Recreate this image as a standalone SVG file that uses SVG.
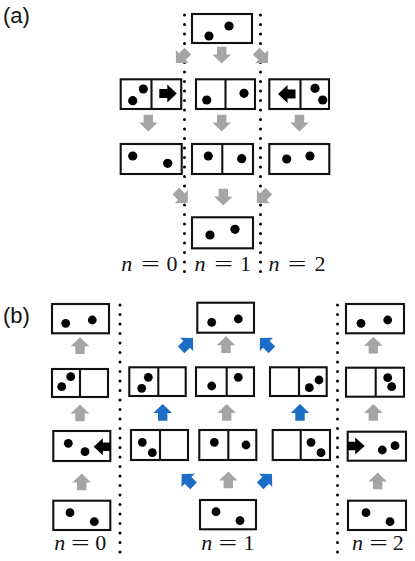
<svg xmlns="http://www.w3.org/2000/svg" xmlns:xlink="http://www.w3.org/1999/xlink" width="415" height="561" viewBox="0 0 415 561">
<style>
.box{fill:#fff;stroke:#111;stroke-width:2.1}
.div{stroke:#111;stroke-width:2.1}
.dot{fill:#000}
.vl{stroke:#000;stroke-width:3;stroke-dasharray:0 9.5;stroke-linecap:round;fill:none}
.g{fill:#a4a6a4}
.b{fill:#1d6cc6}
.k{fill:#000}
.lbl{font-family:"Liberation Sans",Arial,sans-serif;font-size:22px;fill:#111}
.m{font-family:"Liberation Serif","Times New Roman",serif;font-size:22px;fill:#111}
.mi{font-style:italic}
</style>
<defs>
<path id="ar" d="M0,-8.5 L9.3,0.5 L4.7,0.5 L4.7,8.3 L-4.7,8.3 L-4.7,0.5 L-9.3,0.5 Z"/>
<path id="ka" d="M0,-4.5 H8 V-9 L17.5,0 L8,9 V4.5 H0 Z"/>
</defs>
<text class="lbl" x="3" y="22.7">(a)</text>
<text class="lbl" x="3" y="322.7">(b)</text>
<g id="dividers">
<line class="vl" x1="184.5" y1="15" x2="184.5" y2="277"/>
<line class="vl" x1="260.5" y1="15" x2="260.5" y2="277"/>
<line class="vl" x1="120" y1="305" x2="120" y2="556"/>
<line class="vl" x1="337.5" y1="305" x2="337.5" y2="556"/>
</g>
<g id="connectors">
<use href="#ar" class="g" transform="translate(221.7,55) rotate(180)"/>
<use href="#ar" class="g" transform="translate(182,57) rotate(225)"/>
<use href="#ar" class="g" transform="translate(262,57) rotate(135)"/>
<use href="#ar" class="g" transform="translate(148.3,123) rotate(180)"/>
<use href="#ar" class="g" transform="translate(221.7,123) rotate(180)"/>
<use href="#ar" class="g" transform="translate(299.5,123) rotate(180)"/>
<use href="#ar" class="g" transform="translate(181.7,197) rotate(135)"/>
<use href="#ar" class="g" transform="translate(223.3,197) rotate(180)"/>
<use href="#ar" class="g" transform="translate(263,197) rotate(225)"/>
<use href="#ar" class="g" transform="translate(80,345.8)"/>
<use href="#ar" class="g" transform="translate(80,413)"/>
<use href="#ar" class="g" transform="translate(81.7,482)"/>
<use href="#ar" class="g" transform="translate(226,344.7)"/>
<use href="#ar" class="g" transform="translate(226.7,412.5)"/>
<use href="#ar" class="g" transform="translate(228.3,480)"/>
<use href="#ar" class="g" transform="translate(373.3,345.3)"/>
<use href="#ar" class="g" transform="translate(373.3,412.5)"/>
<use href="#ar" class="g" transform="translate(377.7,481)"/>
<use href="#ar" class="b" transform="translate(187,344) rotate(45)"/>
<use href="#ar" class="b" transform="translate(266,344) rotate(-45)"/>
<use href="#ar" class="b" transform="translate(162.7,412.5)"/>
<use href="#ar" class="b" transform="translate(300,412.5)"/>
<use href="#ar" class="b" transform="translate(187.7,480) rotate(-45)"/>
<use href="#ar" class="b" transform="translate(266,480) rotate(45)"/>
</g>
<g id="a0"><rect class="box" x="192" y="14" width="60" height="29"/><circle class="dot" cx="209" cy="36" r="4.6"/><circle class="dot" cx="229" cy="26" r="4.6"/></g>
<g id="a1l"><rect class="box" x="120.7" y="79.3" width="60.5" height="29.7"/><line class="div" x1="151.5" y1="79.3" x2="151.5" y2="109"/><circle class="dot" cx="132.7" cy="100.7" r="4.6"/><circle class="dot" cx="143.3" cy="89" r="4.6"/><use href="#ka" class="k" transform="translate(159.3,93.5)"/></g>
<g id="a1m"><rect class="box" x="196" y="79.3" width="59" height="29.7"/><line class="div" x1="225.5" y1="79.3" x2="225.5" y2="109"/><circle class="dot" cx="206.7" cy="100" r="4.6"/><circle class="dot" cx="244" cy="93.3" r="4.6"/></g>
<g id="a1r"><rect class="box" x="269.3" y="79.3" width="59.7" height="29.7"/><line class="div" x1="300.5" y1="79.3" x2="300.5" y2="109"/><circle class="dot" cx="315" cy="88.3" r="4.6"/><circle class="dot" cx="322.7" cy="100" r="4.6"/><use href="#ka" class="k" transform="translate(295.5,94) scale(-1,1)"/></g>
<g id="a2l"><rect class="box" x="120.7" y="144" width="61" height="30"/><circle class="dot" cx="132.7" cy="156" r="4.6"/><circle class="dot" cx="167.7" cy="163.3" r="4.6"/></g>
<g id="a2m"><rect class="box" x="192" y="144" width="61" height="30"/><line class="div" x1="222.3" y1="144" x2="222.3" y2="174"/><circle class="dot" cx="208.3" cy="156" r="4.6"/><circle class="dot" cx="241.7" cy="158.7" r="4.6"/></g>
<g id="a2r"><rect class="box" x="269.3" y="144" width="60" height="30"/><circle class="dot" cx="286.7" cy="159" r="4.6"/><circle class="dot" cx="310" cy="156" r="4.6"/></g>
<g id="a3"><rect class="box" x="192" y="217.3" width="61" height="31"/><circle class="dot" cx="210" cy="235" r="4.6"/><circle class="dot" cx="235" cy="229.3" r="4.6"/></g>
<g id="alabels">
<text class="m mi" x="126.7" y="271" text-anchor="middle">n</text><text class="m" transform="translate(150.5,271) scale(1.5,1)" text-anchor="middle">=</text><text class="m" x="172" y="271" text-anchor="middle">0</text>
<text class="m mi" x="200" y="271" text-anchor="middle">n</text><text class="m" transform="translate(223.5,271) scale(1.5,1)" text-anchor="middle">=</text><text class="m" x="245.5" y="271" text-anchor="middle">1</text>
<text class="m mi" x="274" y="271" text-anchor="middle">n</text><text class="m" transform="translate(297,271) scale(1.5,1)" text-anchor="middle">=</text><text class="m" x="320" y="271" text-anchor="middle">2</text>
</g>
<g id="b0t"><rect class="box" x="52" y="304" width="57" height="29.3"/><circle class="dot" cx="65.7" cy="323.3" r="4.4"/><circle class="dot" cx="92.3" cy="320" r="4.4"/></g>
<g id="b0r2"><rect class="box" x="52" y="369" width="56" height="28"/><line class="div" x1="80" y1="369" x2="80" y2="397"/><circle class="dot" cx="61.7" cy="386.7" r="4.4"/><circle class="dot" cx="70.7" cy="376.7" r="4.4"/></g>
<g id="b0r3"><rect class="box" x="53.3" y="431" width="57" height="30"/><circle class="dot" cx="68.3" cy="443.3" r="4.4"/><circle class="dot" cx="85" cy="451.7" r="4.4"/><use href="#ka" class="k" transform="translate(110.5,446.7) scale(-0.96,0.95)"/></g>
<g id="b0b"><rect class="box" x="53.3" y="500.7" width="57" height="29.3"/><circle class="dot" cx="70" cy="512.7" r="4.4"/><circle class="dot" cx="94.3" cy="521.7" r="4.4"/></g>
<g id="b1t"><rect class="box" x="197.3" y="302.7" width="56.7" height="30"/><circle class="dot" cx="211.7" cy="322.3" r="4.4"/><circle class="dot" cx="238.3" cy="319" r="4.4"/></g>
<g id="b1r2a"><rect class="box" x="129.3" y="367.3" width="56.4" height="28.7"/><line class="div" x1="158.3" y1="367.3" x2="158.3" y2="396"/><circle class="dot" cx="141.7" cy="388.3" r="4.4"/><circle class="dot" cx="148.3" cy="377.3" r="4.4"/></g>
<g id="b1r2b"><rect class="box" x="196" y="367.3" width="58" height="28.7"/><line class="div" x1="226.7" y1="367.3" x2="226.7" y2="396"/><circle class="dot" cx="211.7" cy="386" r="4.4"/><circle class="dot" cx="238.3" cy="377.3" r="4.4"/></g>
<g id="b1r2c"><rect class="box" x="270" y="367.3" width="56.7" height="28.7"/><line class="div" x1="299" y1="367.3" x2="299" y2="396"/><circle class="dot" cx="309.3" cy="387.7" r="4.4"/><circle class="dot" cx="319" cy="380" r="4.4"/></g>
<g id="b1r3a"><rect class="box" x="131" y="430" width="57" height="30"/><line class="div" x1="160" y1="430" x2="160" y2="460"/><circle class="dot" cx="142.3" cy="442.3" r="4.4"/><circle class="dot" cx="152.3" cy="452.7" r="4.4"/></g>
<g id="b1r3b"><rect class="box" x="199.3" y="430" width="57" height="30"/><line class="div" x1="228.3" y1="430" x2="228.3" y2="460"/><circle class="dot" cx="214.3" cy="442.3" r="4.4"/><circle class="dot" cx="246" cy="445" r="4.4"/></g>
<g id="b1r3c"><rect class="box" x="272.7" y="430" width="57.3" height="30"/><line class="div" x1="300.7" y1="430" x2="300.7" y2="460"/><circle class="dot" cx="311" cy="442.3" r="4.4"/><circle class="dot" cx="321" cy="452.7" r="4.4"/></g>
<g id="b1b"><rect class="box" x="200" y="500" width="56" height="29.3"/><circle class="dot" cx="216" cy="511.7" r="4.4"/><circle class="dot" cx="240" cy="520.7" r="4.4"/></g>
<g id="b2t"><rect class="box" x="346" y="304" width="58" height="29.3"/><circle class="dot" cx="361" cy="323.3" r="4.4"/><circle class="dot" cx="387.7" cy="320" r="4.4"/></g>
<g id="b2r2"><rect class="box" x="346" y="367.7" width="58" height="29"/><line class="div" x1="375.7" y1="367.7" x2="375.7" y2="396.7"/><circle class="dot" cx="387.7" cy="377.7" r="4.4"/><circle class="dot" cx="391.7" cy="386.7" r="4.4"/></g>
<g id="b2r3"><rect class="box" x="347.7" y="431.7" width="58.3" height="29"/><circle class="dot" cx="382.3" cy="450" r="4.4"/><circle class="dot" cx="395" cy="445.7" r="4.4"/><use href="#ka" class="k" transform="translate(347.2,446) scale(1,0.95)"/></g>
<g id="b2b"><rect class="box" x="348" y="500.7" width="58" height="29.3"/><circle class="dot" cx="366" cy="512.7" r="4.4"/><circle class="dot" cx="390" cy="521.7" r="4.4"/></g>
<g id="blabels">
<text class="m mi" x="59.7" y="549.5" text-anchor="middle">n</text><text class="m" transform="translate(80.2,549.5) scale(1.5,1)" text-anchor="middle">=</text><text class="m" x="100.8" y="549.5" text-anchor="middle">0</text>
<text class="m mi" x="206.7" y="549.5" text-anchor="middle">n</text><text class="m" transform="translate(227.8,549.5) scale(1.5,1)" text-anchor="middle">=</text><text class="m" x="249" y="549.5" text-anchor="middle">1</text>
<text class="m mi" x="357.5" y="549.5" text-anchor="middle">n</text><text class="m" transform="translate(378.5,549.5) scale(1.5,1)" text-anchor="middle">=</text><text class="m" x="398.3" y="549.5" text-anchor="middle">2</text>
</g>
</svg>
